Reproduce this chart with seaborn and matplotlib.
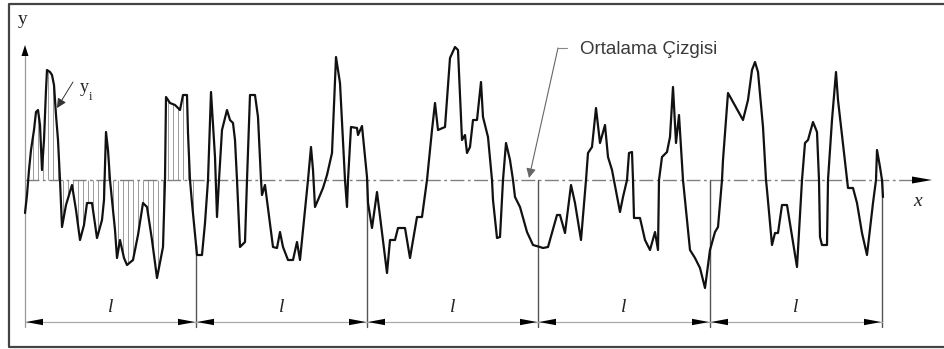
import numpy as np
import pandas as pd
import matplotlib
matplotlib.use("Agg")
import matplotlib.pyplot as plt
import seaborn as sns

# Surface profile: positions along the sample and heights above the mean line
profile_x = [25, 27, 29, 31, 34, 36, 38, 40, 42, 44, 46, 47, 50, 52, 54, 56, 58, 60, 62, 66,
             72, 76, 80, 84, 87, 92, 97, 102, 104, 106, 108, 110, 115, 117, 120, 124, 127, 133, 138, 143,
             147, 152, 157, 163, 165, 166, 170, 175, 180, 183, 187, 188, 190, 192, 197, 202, 205, 208, 211, 215,
             217, 219, 222, 227, 230, 233, 235, 237, 240, 245, 247, 250, 255, 258, 261, 262, 265, 273, 277, 280,
             283, 288, 293, 297, 300, 308, 311, 313, 315, 318, 323, 327, 332, 336, 340, 345, 347, 348, 351, 357,
             358, 362, 367, 368, 372, 377, 387, 390, 395, 398, 405, 410, 417, 422, 427, 432, 435, 438, 445, 450,
             455, 458, 462, 465, 467, 470, 473, 477, 481, 483, 488, 492, 493, 497, 500, 503, 506, 510, 513, 515,
             520, 527, 533, 540, 543, 548, 557, 560, 565, 571, 575, 581, 586, 588, 592, 596, 600, 605, 608, 612,
             620, 623, 627, 629, 632, 633, 634, 640, 645, 650, 655, 658, 659, 662, 667, 670, 673, 676, 679, 683,
             690, 695, 700, 705, 710, 715, 718, 722, 723, 728, 743, 748, 752, 755, 758, 763, 766, 767, 772, 775,
             778, 782, 787, 797, 802, 805, 808, 813, 817, 819, 820, 822, 827, 828, 832, 836, 838, 847, 848, 853,
             857, 862, 867, 873, 876, 877, 880, 882, 883]
profile_h = [-33, -15, 10, 30, 50, 68, 70, 55, 10, 40, 90, 110, 108, 105, 95, 65, 40, 0, -47, -25,
             -5, -30, -60, -45, -23, -23, -58, -40, -20, 48, 30, 0, -50, -78, -60, -78, -85, -80, -55, -23,
             -27, -60, -98, -67, 0, 83, 77, 75, 70, 85, 85, 47, 0, -23, -75, -75, -43, 0, 88, 23,
             -37, 0, 50, 70, 60, 57, 40, 0, -67, -62, 0, 85, 85, 63, 0, -15, -5, -67, -68, -52,
             -67, -80, -80, -62, -80, 0, 33, 10, -27, -20, -8, 5, 27, 123, 97, 0, -27, 0, 53, 52,
             45, 54, 3, -23, -48, -12, -93, -60, -60, -48, -48, -78, -37, -37, 0, 50, 77, 50, 53, 122,
             133, 130, 40, 45, 27, 33, 60, 60, 98, 63, 43, 0, -20, -58, -57, 0, 37, 20, 0, -17,
             -27, -52, -65, -67, -68, -67, -35, -35, -53, -5, -23, -60, 0, 27, 33, 72, 37, 55, 23, 10,
             -32, -17, 0, 27, 28, 0, -38, -38, -60, -70, -52, -70, 0, 23, 28, 43, 93, 37, 65, 0,
             -70, -78, -88, -108, -70, -52, -47, 0, 20, 87, 60, 80, 110, 118, 108, 53, 0, -10, -65, -53,
             -53, -25, -25, -87, 0, 37, 40, 58, 48, 0, -57, -65, -65, 0, 60, 108, 80, 0, -8, -8,
             -23, -53, -75, -23, 0, 30, 13, 0, -17]

# Sampling lengths (boundaries of the five evaluation segments)
segment_bounds = [25, 196, 367, 538, 710, 882]
segment_label = "l"
mean_label = "Ortalama Çizgisi"

sns.set_theme(style="white")
plt.rcParams["font.family"] = ["Liberation Sans", "DejaVu Sans"]

fig = plt.figure(figsize=(9.44, 3.49), dpi=100)
ax = fig.add_axes([0, 0, 1, 1])
ax.set_xlim(0, 944)
ax.set_ylim(-169, 180)
ax.axis("off")

serif = ["Liberation Serif", "DejaVu Serif"]
dim_y = -142
line_bottom = -147


def arrow_head(tip, base, half=3.5, color="black"):
    tx, ty = tip
    bx, by = base
    dx, dy = bx - tx, by - ty
    n = np.hypot(dx, dy)
    px, py = -dy / n * half, dx / n * half
    ax.fill([tx, bx + px, bx - px], [ty, by + py, by - py], color=color, lw=0, zorder=5)


# frame
ax.plot([950, 9, 9, 950], [176, 176, -167, -167], color="#444444", lw=1.6, zorder=1)

df = pd.DataFrame({"x": profile_x, "h": profile_h})

# hatching between mean line and profile in the first segment
first = df[df.x <= segment_bounds[1] + 2]
hx = np.arange(28, segment_bounds[1] - 2, 5)
hh = np.interp(hx, first.x, first.h)
ax.vlines(hx, 0, hh, color="#9a9a9a", lw=0.7, zorder=2)

# mean line with x-axis arrow
ax.plot([segment_bounds[0], 913], [0, 0], color="#808080", lw=1.0,
        linestyle=(0, (10, 2.5, 2, 2.5)), zorder=2)
arrow_head((932, 0), (912, 0))
ax.text(918, -22, "x", family=serif, style="italic", fontsize=14,
        ha="center", va="center", color="#222222")

# y axis
ax.plot([segment_bounds[0], segment_bounds[0]], [124, line_bottom], color="#999999", lw=0.9, zorder=2)
arrow_head((segment_bounds[0], 135), (segment_bounds[0], 124))
ax.text(23, 160, "y", family=serif, fontsize=14, ha="center", va="center", color="#222222")

# segment boundaries
for i, b in enumerate(segment_bounds[1:], start=1):
    top = np.interp(b, df.x, df.h) if i == 1 else 0
    ax.plot([b, b], [top, line_bottom], color="#555555", lw=1.0, zorder=2)

# profile
sns.lineplot(data=df, x="x", y="h", sort=False, estimator=None, color="#111111",
             lw=1.6, ax=ax, zorder=4)

# dimension line with arrows
ax.plot([segment_bounds[0], segment_bounds[-1]], [dim_y, dim_y], color="#aaaaaa", lw=0.9, zorder=2)
for a, b in zip(segment_bounds[:-1], segment_bounds[1:]):
    arrow_head((a + 1, dim_y), (a + 18, dim_y), half=3.2)
    arrow_head((b - 1, dim_y), (b - 18, dim_y), half=3.2)
    ax.text((a + b) / 2, dim_y + 14, segment_label, family=serif, style="italic",
            fontsize=14, ha="center", va="center", color="#222222")

# y_i callout
ax.annotate("", xy=(57, 72), xytext=(73, 98),
            arrowprops=dict(arrowstyle="-|>", color="#333333", lw=0.7,
                            mutation_scale=14, shrinkA=0, shrinkB=0))
ax.text(84, 92, "y", family=serif, fontsize=13, ha="center", va="center", color="#222222")
ax.text(90, 83, "i", family=serif, fontsize=9, ha="center", va="center", color="#222222")

# mean line callout
ax.plot([558, 567], [132, 132], color="#888888", lw=0.8)
ax.annotate("", xy=(529, 2), xytext=(558, 132),
            arrowprops=dict(arrowstyle="-|>", color="#666666", lw=0.8,
                            mutation_scale=14, shrinkA=0, shrinkB=0))
ax.text(580, 130, mean_label, fontsize=13.5, ha="left", va="center", color="#3a3a3a")

fig.savefig("out.png", dpi=100)
